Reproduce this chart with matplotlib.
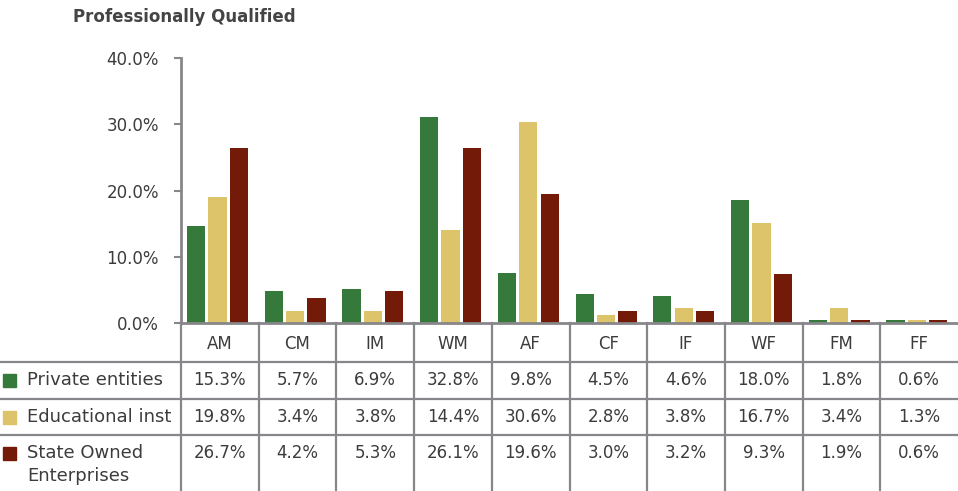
import matplotlib
matplotlib.use("Agg")
import matplotlib.pyplot as plt
from matplotlib.lines import Line2D
from matplotlib.patches import Rectangle
import numpy as np

# ---------------------------------------------------------------------------
# Data
# ---------------------------------------------------------------------------
categories = ["AM", "CM", "IM", "WM", "AF", "CF", "IF", "WF", "FM", "FF"]
series_names = ["Private entities", "Educational inst", "State Owned\nEnterprises"]

# bar heights as drawn in the chart
private_bars = [14.7, 4.8, 5.1, 31.1, 7.5, 4.4, 4.1, 18.6, 0.5, 0.4]
edu_bars = [19.0, 1.8, 1.8, 14.0, 30.4, 1.2, 2.3, 15.1, 2.2, 0.5]
soe_bars = [26.4, 3.8, 4.8, 26.4, 19.4, 1.8, 1.8, 7.4, 0.5, 0.5]

# values printed in the data table
private_table = [15.3, 5.7, 6.9, 32.8, 9.8, 4.5, 4.6, 18.0, 1.8, 0.6]
edu_table = [19.8, 3.4, 3.8, 14.4, 30.6, 2.8, 3.8, 16.7, 3.4, 1.3]
soe_table = [26.7, 4.2, 5.3, 26.1, 19.6, 3.0, 3.2, 9.3, 1.9, 0.6]

yticks = [0, 10, 20, 30, 40]

colors = ["#367a3b", "#ddc36a", "#731a08"]
TEXT = "#3c3c3c"
GRID = "#87878b"

W, H = 958, 491


def fx(x):
    return x / W


def fy(y):
    return 1 - y / H


fig = plt.figure(figsize=(W / 100, H / 100), dpi=100)
plt.rcParams["font.family"] = ["DejaVu Sans"]

# plot area in pixel coords
x0, x1 = 181, 958
y_top, y_base = 58, 323
ax = fig.add_axes([fx(x0), fy(y_base), fx(x1) - fx(x0), (y_base - y_top) / H])

n = len(categories)
x = np.arange(n)
width = 0.235
step = 0.275
for i, (vals, c) in enumerate(zip([private_bars, edu_bars, soe_bars], colors)):
    ax.bar(x + (i - 1) * step - 0.03, vals, width, color=c, zorder=2)

ax.set_xlim(-0.5, n - 0.5)
ax.set_ylim(0, 40)
ax.set_yticks(yticks)
ax.set_yticklabels([f"{v:.1f}%" for v in yticks], fontsize=12, color=TEXT)
ax.tick_params(axis="y", length=5, width=1.5, color=GRID, pad=11)
ax.set_xticks([])
for s in ["top", "right"]:
    ax.spines[s].set_visible(False)
for s in ["left", "bottom"]:
    ax.spines[s].set_color(GRID)
    ax.spines[s].set_linewidth(2)

fig.text(fx(73), fy(17), "Professionally Qualified", fontsize=12,
         fontweight="bold", color="#444444", ha="left", va="center")

# ---------------------------------------------------------------------------
# Data table below the axis
# ---------------------------------------------------------------------------
col_w = (x1 - x0) / n
row_lines = [362, 399, 435]
line_kw = dict(transform=fig.transFigure, color=GRID, lw=1.6)

for yy in row_lines:
    fig.add_artist(Line2D([0, 1], [fy(yy), fy(yy)], **line_kw))
for k in range(n):
    xx = x0 + k * col_w
    fig.add_artist(Line2D([fx(xx), fx(xx)], [fy(y_base), 0], **line_kw))

for k, cat in enumerate(categories):
    cx = x0 + (k + 0.5) * col_w
    fig.text(fx(cx), fy(344), cat, fontsize=12, color=TEXT,
             ha="center", va="center")

row_centers = [380, 417, 453]
for r, (vals, name, c) in enumerate(zip([private_table, edu_table, soe_table],
                                        series_names, colors)):
    yc = row_centers[r]
    fig.add_artist(Rectangle((fx(3), fy(yc + 7)), 13 / W, 13 / H,
                             transform=fig.transFigure, color=c))
    lines = name.split("\n")
    for j, line in enumerate(lines):
        fig.text(fx(27), fy(yc + 23 * j), line, fontsize=13, color=TEXT,
                 ha="left", va="center")
    for k, v in enumerate(vals):
        cx = x0 + (k + 0.5) * col_w
        fig.text(fx(cx), fy(yc), f"{v:.1f}%", fontsize=12, color=TEXT,
                 ha="center", va="center")

fig.savefig("out.png", dpi=100)
